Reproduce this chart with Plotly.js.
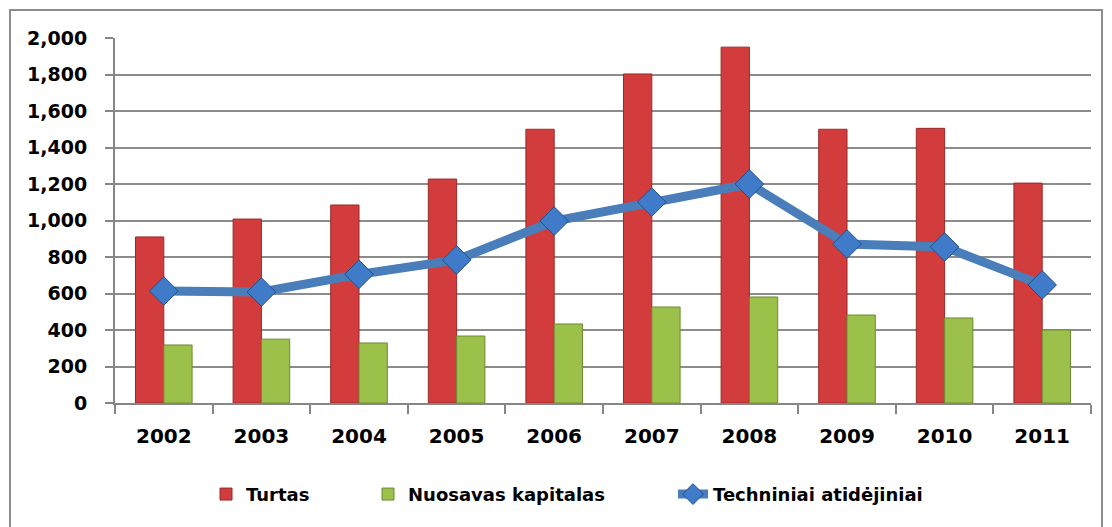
<!DOCTYPE html>
<html>
<head>
<meta charset="utf-8">
<script src="https://cdn.plot.ly/plotly-3.0.1.min.js"></script>
<style>
html,body{margin:0;padding:0;background:#fff;}
#chart{width:1112px;height:527px;}
</style>
</head>
<body>
<div id="chart"></div>
<script>
const years = ["2002","2003","2004","2005","2006","2007","2008","2009","2010","2011"];
const turtas = [910, 1008, 1085, 1227, 1500, 1803, 1950, 1500, 1505, 1205];
const kapitalas = [318, 350, 329, 367, 433, 526, 581, 482, 466, 400];
const atidejiniai = [614, 608, 705, 784, 997, 1101, 1200, 871, 855, 647];
const seriesNames = ["Turtas", "Nuosavas kapitalas", "Techniniai atidėjiniai"];

const FONT = "'DejaVu Sans', 'Liberation Sans', sans-serif";

const traces = [
  {
    type: "bar", name: seriesNames[0], x: years, y: turtas, legend: "legend",
    marker: {color: "#D23C3C", line: {color: "#9A2B2B", width: 1}}
  },
  {
    type: "bar", name: seriesNames[1], x: years, y: kapitalas, legend: "legend2",
    marker: {color: "#9CC14B", line: {color: "#6E8A33", width: 1}}
  },
  {
    type: "scatter", mode: "lines+markers", name: seriesNames[2], x: years, y: atidejiniai, legend: "legend3",
    line: {color: "#4A7EBB", width: 9},
    marker: {symbol: "diamond", size: 22, color: "#3F7BC8", line: {color: "#24508A", width: 1}}
  }
];

const L = 115, R = 1091, T = 38, B = 403.5;
const pw = R - L, ph = B - T;
const px = v => (v - L) / pw;
const py = v => (B - v) / ph;

function legendAt(xpix) {
  return {
    orientation: "h", x: px(xpix), xanchor: "left", y: py(495), yanchor: "middle",
    font: {family: FONT, size: 18, color: "#000", weight: "bold"},
    bgcolor: "rgba(0,0,0,0)", borderwidth: 0, itemwidth: 30
  };
}

const layout = {
  width: 1112, height: 527,
  margin: {l: L, r: 1112 - R, t: T, b: 527 - B, pad: 0, autoexpand: false},
  paper_bgcolor: "#ffffff",
  plot_bgcolor: "#ffffff",
  font: {family: FONT, color: "#000000"},
  barmode: "group",
  bargap: 0.42,
  bargroupgap: 0,
  showlegend: true,
  legend: legendAt(206),
  legend2: legendAt(368),
  legend3: legendAt(673),
  xaxis: {
    type: "category", range: [-0.5, years.length - 0.5], autorange: false,
    showline: true, linecolor: "#868686", linewidth: 2,
    ticks: "outside", tickson: "boundaries", ticklen: 9, tickcolor: "#868686", tickwidth: 2,
    tickfont: {family: FONT, size: 20, color: "#000", weight: "bold"},
    ticklabelstandoff: 14,
    showgrid: false, zeroline: false
  },
  yaxis: {
    range: [0, 2000], autorange: false, dtick: 200, tickformat: ",d",
    showline: true, linecolor: "#868686", linewidth: 2,
    ticks: "outside", ticklen: 8, tickcolor: "#868686", tickwidth: 2,
    showgrid: true, gridcolor: "#8c8c8c", gridwidth: 2,
    zeroline: false,
    tickfont: {family: FONT, size: 19, color: "#000", weight: "bold"},
    ticklabelstandoff: 14
  },
  shapes: [
    {type: "rect", xref: "paper", yref: "paper",
     x0: px(10), x1: px(1102), y0: py(540), y1: py(10),
     line: {color: "#8c8c8c", width: 2}, fillcolor: "rgba(0,0,0,0)", layer: "below"}
  ]
};

Plotly.newPlot("chart", traces, layout, {displayModeBar: false, staticPlot: true});
</script>
</body>
</html>
